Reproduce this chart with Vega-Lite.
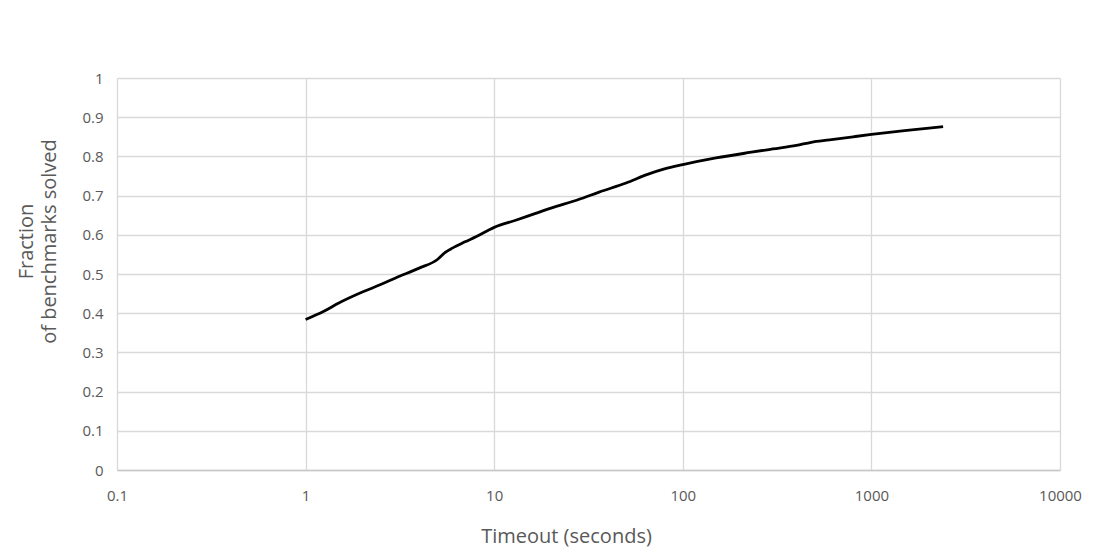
{
  "$schema": "https://vega.github.io/schema/vega-lite/v6.json",
  "autosize": {"type": "none"},
  "width": 943,
  "height": 392,
  "padding": {"left": 117, "top": 78, "right": 36, "bottom": 78},
  "background": "white",
  "config": {
    "view": {"stroke": null},
    "font": "Open Sans",
    "axis": {"labelFont": "Open Sans", "titleFont": "Open Sans", "labelColor": "#595959", "titleColor": "#595959", "labelFontSize": 15, "titleFontSize": 20, "titleFontWeight": "normal", "gridColor": "#d9d9d9", "gridWidth": 1.3, "ticks": false}
  },
  "data": {"values": [
    {"t": 1, "f": 0.384},
    {"t": 1.25, "f": 0.405},
    {"t": 1.5, "f": 0.426},
    {"t": 2, "f": 0.454},
    {"t": 2.5, "f": 0.473},
    {"t": 3, "f": 0.49},
    {"t": 4, "f": 0.515},
    {"t": 5, "f": 0.537},
    {"t": 5.5, "f": 0.555},
    {"t": 6, "f": 0.566},
    {"t": 7, "f": 0.582},
    {"t": 8, "f": 0.595},
    {"t": 10, "f": 0.619},
    {"t": 13, "f": 0.637},
    {"t": 16, "f": 0.652},
    {"t": 20, "f": 0.668},
    {"t": 28, "f": 0.69},
    {"t": 36, "f": 0.709},
    {"t": 50, "f": 0.732},
    {"t": 65, "f": 0.754},
    {"t": 80, "f": 0.768},
    {"t": 100, "f": 0.779},
    {"t": 150, "f": 0.796},
    {"t": 226, "f": 0.81},
    {"t": 300, "f": 0.819},
    {"t": 400, "f": 0.828},
    {"t": 480, "f": 0.836},
    {"t": 600, "f": 0.842},
    {"t": 800, "f": 0.85},
    {"t": 1000, "f": 0.856},
    {"t": 1500, "f": 0.866},
    {"t": 2400, "f": 0.876}
  ]},
  "mark": {"type": "line", "color": "#000000", "strokeWidth": 2.8, "interpolate": "monotone"},
  "encoding": {
    "x": {
      "field": "t", "type": "quantitative",
      "scale": {"type": "log", "domain": [0.1, 10000], "nice": false},
      "axis": {"title": "Timeout (seconds)", "titleFontSize": 20, "labelFontSize": 15, "values": [0.1, 1, 10, 100, 1000, 10000], "format": "~g", "labelPadding": 18, "titlePadding": 23, "titleX": 449, "domainColor": "#c8c8c8", "domainWidth": 1.5, "grid": true, "labelFlush": false}
    },
    "y": {
      "field": "f", "type": "quantitative",
      "scale": {"domain": [0, 1], "nice": false},
      "axis": {"title": ["Fraction", "of benchmarks solved"], "titleFontSize": 20, "labelFontSize": 15, "values": [0, 0.1, 0.2, 0.3, 0.4, 0.5, 0.6, 0.7, 0.8, 0.9, 1], "format": "~g", "labelPadding": 14, "domain": false, "titleX": -101, "titleY": 163, "titleBaseline": "top", "titleLineHeight": 23, "titleAngle": -90}
    }
  }
}
